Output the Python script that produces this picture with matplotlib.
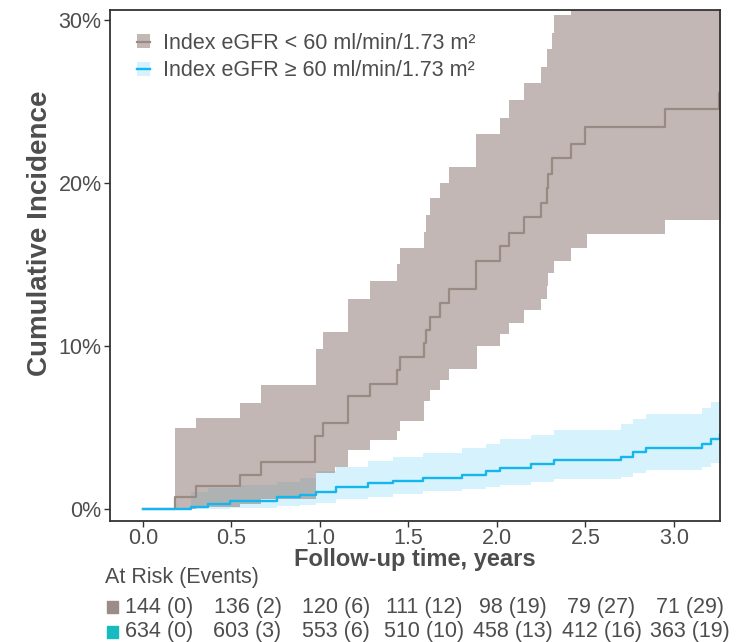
import numpy as np
import matplotlib.pyplot as plt
from matplotlib.patches import Patch, Rectangle
from matplotlib.lines import Line2D
from matplotlib.ticker import FuncFormatter

plt.rcParams['font.family'] = ['Liberation Sans', 'DejaVu Sans']

# eGFR < 60 : cumulative incidence (%) step curve and its CI
low_t = [0, 0.18, 0.30, 0.55, 0.665, 0.97, 1.02, 1.16, 1.284, 1.433, 1.45, 1.588, 1.60, 1.62,
         1.68, 1.73, 1.88, 2.02, 2.066, 2.15, 2.25, 2.28, 2.287, 2.31, 2.42, 2.50, 2.95, 3.255]
low_y = [0, 0.72, 1.41, 2.07, 2.9, 4.48, 5.3, 6.9, 7.67, 8.5, 9.3, 10.2, 11.0, 11.8,
         12.66, 13.5, 15.2, 16.1, 16.95, 17.9, 18.75, 19.7, 20.55, 21.5, 22.4, 23.4, 24.5, 25.5]
low_up_t = [0.18, 0.30, 0.55, 0.665, 0.975, 1.02, 1.16, 1.284, 1.433, 1.45, 1.588, 1.60, 1.62,
            1.68, 1.73, 1.88, 2.02, 2.066, 2.15, 2.25, 2.28, 2.31, 2.32, 2.42]
low_up = [4.95, 5.56, 6.5, 7.6, 9.8, 10.84, 12.9, 14.0, 15.0, 16.0, 17.0, 18.0, 19.1,
          20.0, 21.0, 23.0, 24.0, 25.1, 26.1, 27.1, 28.2, 29.2, 30.3, 33.0]
low_lo_t = [0.18, 0.30, 0.55, 0.665, 0.975, 1.085, 1.16, 1.284, 1.433, 1.45, 1.588, 1.62, 1.68,
            1.73, 1.885, 2.02, 2.07, 2.15, 2.25, 2.28, 2.29, 2.32, 2.42, 2.51, 2.95]
low_lo = [0, 0.1, 0.3, 0.6, 2.2, 2.6, 3.6, 4.2, 4.8, 5.4, 6.6, 7.3, 7.9,
          8.6, 10.0, 10.7, 11.4, 12.2, 12.9, 13.7, 14.5, 15.2, 16.0, 16.85, 17.7]

# eGFR >= 60
high_t = [0, 0.274, 0.367, 0.49, 0.76, 0.89, 0.976, 1.09, 1.27, 1.415, 1.58, 1.80, 1.936,
          2.02, 2.19, 2.32, 2.70, 2.77, 2.84, 3.156, 3.21, 3.258]
high_y = [0, 0.14, 0.31, 0.51, 0.72, 0.86, 1.06, 1.37, 1.58, 1.74, 1.92, 2.10, 2.34,
          2.54, 2.76, 3.0, 3.2, 3.5, 3.72, 3.99, 4.29, 4.58]
high_up_t = [0, 0.274, 0.37, 0.55, 0.76, 0.89, 0.976, 1.09, 1.27, 1.415, 1.58, 1.80, 1.936,
             2.02, 2.19, 2.32, 2.70, 2.77, 2.84, 3.156, 3.21]
high_up = [0, 1.06, 1.26, 1.47, 1.67, 1.88, 2.3, 2.6, 2.94, 3.17, 3.45, 3.72, 3.99,
           4.28, 4.54, 4.85, 5.2, 5.52, 5.83, 6.18, 6.55]
high_lo_t = [0, 0.49, 0.76, 0.89, 0.976, 1.09, 1.27, 1.415, 1.58, 1.80, 1.936, 2.02, 2.19,
             2.32, 2.70, 2.77, 2.84, 3.156, 3.21]
high_lo = [0, 0.05, 0.15, 0.25, 0.35, 0.6, 0.75, 0.92, 1.1, 1.2, 1.33, 1.47, 1.64,
           1.82, 1.98, 2.19, 2.39, 2.56, 2.8]

risk_times = [0, 0.5, 1.0, 1.5, 2.0, 2.5, 3.0]
risk_low = ['144 (0)', '136 (2)', '120 (6)', '111 (12)', '98 (19)', '79 (27)', '71 (29)']
risk_high = ['634 (0)', '603 (3)', '553 (6)', '510 (10)', '458 (13)', '412 (16)', '363 (19)']

labels = ['Index eGFR < 60 ml/min/1.73 m\u00b2', 'Index eGFR \u2265 60 ml/min/1.73 m\u00b2']

GRAY_FILL = '#928079'
GRAY_LINE = '#9a8a84'
BLUE_FILL = '#00b4f0'
BLUE_LINE = '#13b6ee'
TXT = '#4d4d4d'
END = 3.4


def step_at(ts, vs, grid):
    idx = np.searchsorted(ts, grid, side='right') - 1
    return np.asarray(vs)[np.clip(idx, 0, None)]


def band(ax, lo_t, lo, up_t, up, color, alpha):
    grid = np.unique(np.concatenate([lo_t, up_t, [END]]))
    start = max(lo_t[0], up_t[0])
    grid = grid[grid >= start]
    ax.fill_between(grid, step_at(lo_t, lo, grid), step_at(up_t, up, grid),
                    step='post', color=color, alpha=alpha, linewidth=0)


fig = plt.figure(figsize=(7.4, 6.42), dpi=100)
ax = fig.add_axes([110 / 740, 1 - 521 / 642, 610 / 740, 511 / 642])

band(ax, high_lo_t, high_lo, high_up_t, high_up, BLUE_FILL, 0.16)
band(ax, low_lo_t, low_lo, low_up_t, low_up, GRAY_FILL, 0.56)
ax.step(low_t + [END], low_y + [low_y[-1]], where='post', color=GRAY_LINE, lw=1.6)
ax.step(high_t + [END], high_y + [high_y[-1]], where='post', color=BLUE_LINE, lw=1.7)

ax.set_xlim(-0.186, 3.26)
ax.set_ylim(-0.74, 30.6)
ax.set_xticks(risk_times)
ax.set_yticks([0, 10, 20, 30])
ax.yaxis.set_major_formatter(FuncFormatter(lambda v, p: f'{v:.0f}%'))
ax.xaxis.set_major_formatter(FuncFormatter(lambda v, p: f'{v:.1f}'))
ax.tick_params(colors='#333333', labelcolor=TXT, labelsize=15.5, length=4, width=1, pad=2)
ax.tick_params(axis='x', pad=1)
for s in ax.spines.values():
    s.set_color('#333333')
    s.set_linewidth(1.3)

ax.set_xlabel('Follow-up time, years', fontsize=17, fontweight='bold', color=TXT, labelpad=-1)
ax.set_ylabel('Cumulative Incidence', fontsize=20, fontweight='bold', color=TXT)
ax.yaxis.set_label_coords(-0.093, 0.564)

handles = [
    (Patch(facecolor=GRAY_FILL, alpha=0.56, edgecolor='none'), Line2D([], [], color=GRAY_LINE, lw=1.6)),
    (Patch(facecolor=BLUE_FILL, alpha=0.16, edgecolor='none'), Line2D([], [], color=BLUE_LINE, lw=1.7)),
]
ax.legend(handles, labels, loc='upper left', bbox_to_anchor=(0.044, 0.955), frameon=False,
          fontsize=15.5, labelcolor=TXT, handlelength=0.62, handleheight=0.62,
          handletextpad=0.6, labelspacing=0.3, borderpad=0, borderaxespad=0)

# at-risk table
fig.text(105 / 740, 1 - 577 / 642, 'At Risk (Events)', fontsize=15.5, color=TXT, va='center')
for row, (vals, sq) in enumerate([(risk_low, '#9b8c87'), (risk_high, '#17babf')]):
    yc = 1 - (607 + 25 * row) / 642
    fig.patches.append(Rectangle((107 / 740, yc - 6 / 642), 11 / 740, 12 / 642,
                                 transform=fig.transFigure, color=sq))
    for t, v in zip(risk_times, vals):
        xc = (143 + 16 + t * 177) / 740
        fig.text(xc, yc, v, fontsize=15.5, color=TXT, ha='center', va='center')

fig.savefig('out.png', dpi=100)
